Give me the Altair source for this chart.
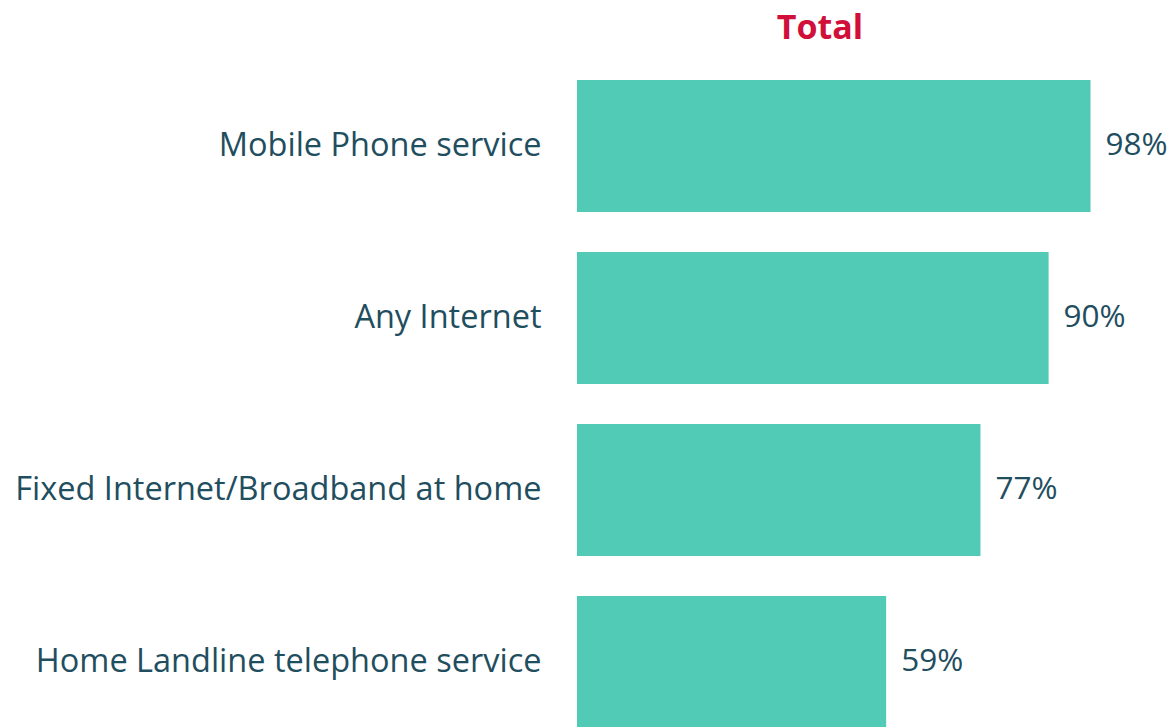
import altair as alt
import pandas as pd

categories = ["Mobile Phone service", "Any Internet", "Fixed Internet/Broadband at home", "Home Landline telephone service"]
values = [98, 90, 77, 59]
labels = ["98%", "90%", "77%", "59%"]

df = pd.DataFrame({"cat": categories, "val": values, "lab": labels})

FONT = "Open Sans"
TEXT_COLOR = "#1F4E5F"

y = alt.Y("cat:N", sort=categories,
          scale=alt.Scale(paddingInner=0.2326, paddingOuter=0.1163),
          axis=alt.Axis(title=None, domain=False, ticks=False, labelPadding=36,
                        labelFont=FONT, labelFontSize=32.5, labelColor=TEXT_COLOR,
                        labelLimit=800))
x = alt.X("val:Q", scale=alt.Scale(domain=[0, 100]), axis=None)

bars = alt.Chart(df).mark_bar(color="#52CBB6").encode(y=y, x=x)
text = alt.Chart(df).mark_text(align="left", baseline="middle", dx=15,
                               font=FONT, fontSize=31.5, color=TEXT_COLOR).encode(
    y=alt.Y("cat:N", sort=categories), x=x, text="lab:N")

chart = (bars + text).properties(
    width=524, height=688,
    title=alt.Title("Total", font=FONT, fontSize=34, fontWeight="bold",
                    color="#D0103A", anchor="middle", dx=-19, offset=14),
    autosize=alt.AutoSizeParams(type="none"),
    padding={"left": 569, "top": 52, "right": 66, "bottom": 0},
).configure_view(stroke=None)

chart.save("out.html", embed_options={"renderer": "svg", "actions": False})
